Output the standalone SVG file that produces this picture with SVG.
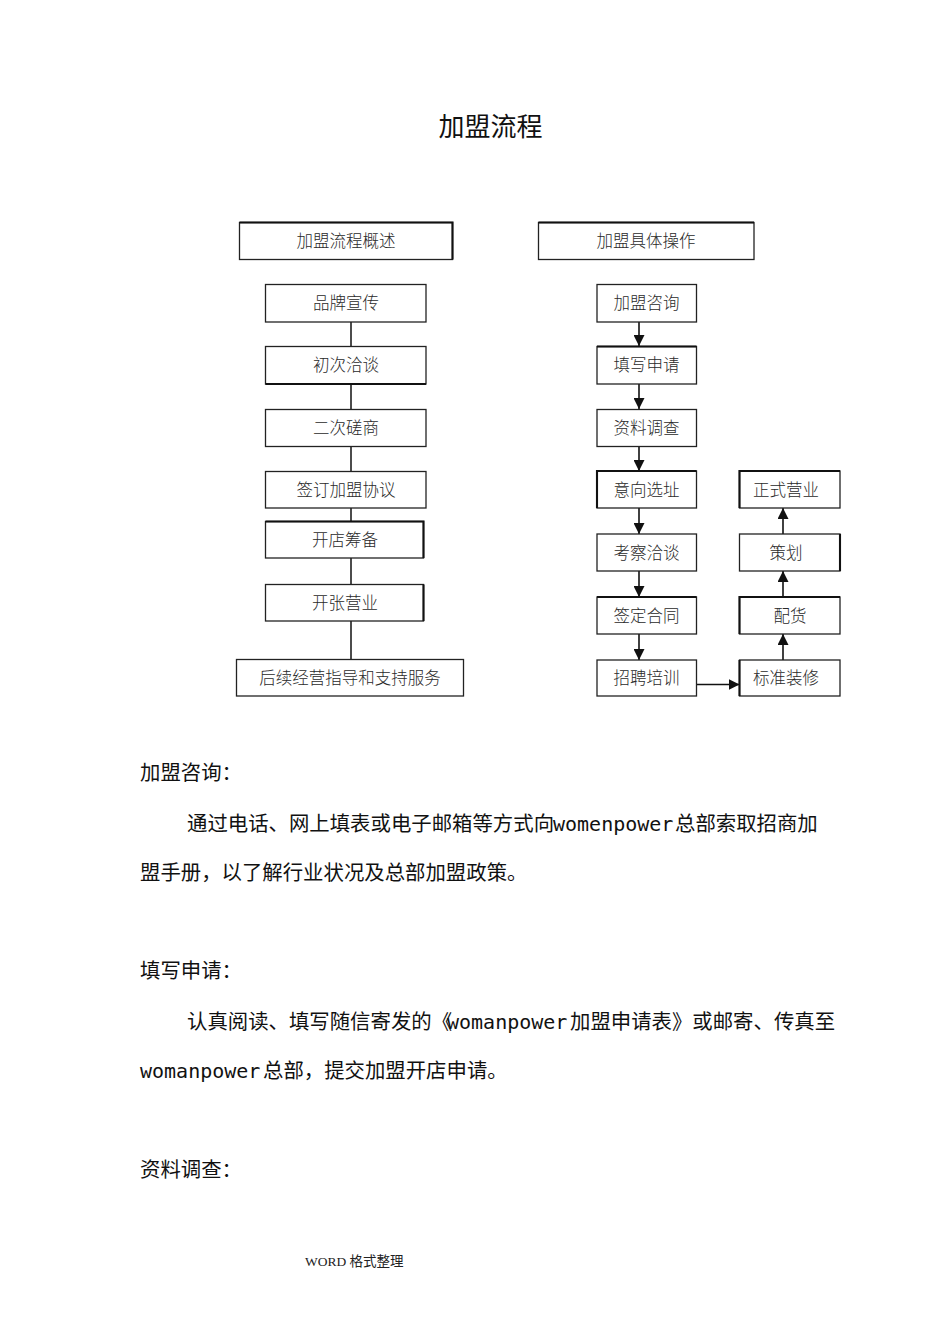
<svg xmlns="http://www.w3.org/2000/svg" width="950" height="1344" viewBox="0 0 950 1344">
<style>
.bg{fill:#ffffff}
.box{fill:#ffffff;stroke:#222;stroke-width:1.3}
.edge{stroke:#111;stroke-width:2.1;fill:none}
.lbl{font-family:"Noto Sans CJK SC","Noto Sans",sans-serif;font-size:16.5px;font-weight:300;fill:#2a2a2a;text-anchor:middle}
.ln{stroke:#111;stroke-width:1.5;fill:none}
.arr{stroke:#111;stroke-width:1.6;fill:none;marker-end:url(#ah)}
.title{font-family:"Noto Sans CJK SC","Noto Sans",sans-serif;font-size:26px;fill:#111;text-anchor:middle}
.body{font-family:"Noto Sans CJK SC","Noto Sans",sans-serif;font-size:20.4px;fill:#111}
.mono{font-family:"DejaVu Sans Mono","Liberation Mono",monospace;font-size:20px}
.foot{font-family:"Liberation Serif","Noto Sans CJK SC",serif;font-size:13.5px;fill:#222}
</style>
<defs>
<marker id="ah" viewBox="0 0 10 10" refX="10" refY="5" markerWidth="11" markerHeight="11" markerUnits="userSpaceOnUse" orient="auto">
<path d="M0,0 L10,5 L0,10 z" fill="#111"/>
</marker>
</defs>
<rect class="bg" x="0" y="0" width="950" height="1344"/>

<text class="title" x="490.5" y="136">加盟流程</text>

<g id="connectors">
<line class="ln" x1="351" y1="322" x2="351" y2="346"/>
<line class="ln" x1="351" y1="384" x2="351" y2="409"/>
<line class="ln" x1="351" y1="447" x2="351" y2="471"/>
<line class="ln" x1="351" y1="508" x2="351" y2="521"/>
<line class="ln" x1="351" y1="558" x2="351" y2="584"/>
<line class="ln" x1="351" y1="621" x2="351" y2="659"/>
<line class="arr" x1="639" y1="322" x2="639" y2="346"/>
<line class="arr" x1="639" y1="384" x2="639" y2="409"/>
<line class="arr" x1="639" y1="446" x2="639" y2="471"/>
<line class="arr" x1="639" y1="508" x2="639" y2="534"/>
<line class="arr" x1="639" y1="571" x2="639" y2="597"/>
<line class="arr" x1="639" y1="634" x2="639" y2="660"/>
<line class="arr" x1="697" y1="684.5" x2="739.5" y2="684.5"/>
<line class="arr" x1="783" y1="660" x2="783" y2="634"/>
<line class="arr" x1="783" y1="597" x2="783" y2="571"/>
<line class="arr" x1="783" y1="534" x2="783" y2="508"/>
</g>

<g id="left-header">
<rect class="box" x="239.5" y="222.5" width="213" height="37"/>
<path class="edge" d="M239.5,222.5 H452.5 V259.5"/>
<text class="lbl" x="346" y="246.5">加盟流程概述</text>
</g>
<g id="n-pinpai">
<rect class="box" x="265.5" y="284.5" width="160.5" height="37.5"/>
<text class="lbl" x="346" y="309">品牌宣传</text>
</g>
<g id="n-chuci">
<rect class="box" x="265.5" y="346.5" width="160.5" height="37.5"/>
<path class="edge" d="M265.5,384 H426"/>
<text class="lbl" x="346" y="371">初次洽谈</text>
</g>
<g id="n-erci">
<rect class="box" x="265.5" y="409.5" width="160.5" height="37"/>
<text class="lbl" x="346" y="434">二次磋商</text>
</g>
<g id="n-qianding">
<rect class="box" x="265.5" y="471.5" width="160.5" height="36.5"/>
<text class="lbl" x="346" y="496">签订加盟协议</text>
</g>
<g id="n-kaidian">
<rect class="box" x="265.5" y="521.5" width="158" height="36.5"/>
<path class="edge" d="M265.5,521.5 H423.5 V558"/>
<text class="lbl" x="345" y="546">开店筹备</text>
</g>
<g id="n-kaizhang">
<rect class="box" x="265.5" y="584.5" width="158" height="36.5"/>
<path class="edge" d="M423.5,584.5 V621"/>
<text class="lbl" x="345" y="609">开张营业</text>
</g>
<g id="n-houxu">
<rect class="box" x="236.5" y="659.5" width="227" height="36.5"/>
<text class="lbl" x="350" y="684">后续经营指导和支持服务</text>
</g>

<g id="right-header">
<rect class="box" x="538.5" y="222.5" width="215.5" height="37"/>
<path class="edge" d="M538.5,222.5 H754"/>
<text class="lbl" x="646" y="246.5">加盟具体操作</text>
</g>
<g id="n-zixun">
<rect class="box" x="597" y="284.5" width="99.5" height="37.5"/>
<text class="lbl" x="646.5" y="309">加盟咨询</text>
</g>
<g id="n-tianxie">
<rect class="box" x="597" y="346.5" width="99.5" height="37.5"/>
<path class="edge" d="M597,346.5 H696.5"/>
<text class="lbl" x="646.5" y="371">填写申请</text>
</g>
<g id="n-ziliao">
<rect class="box" x="597" y="409.5" width="99.5" height="37"/>
<text class="lbl" x="646.5" y="434">资料调查</text>
</g>
<g id="n-yixiang">
<rect class="box" x="597" y="471" width="99.5" height="37"/>
<path class="edge" d="M597,508 V471 H696.5"/>
<text class="lbl" x="646.5" y="495.5">意向选址</text>
</g>
<g id="n-kaocha">
<rect class="box" x="597" y="534" width="99.5" height="37"/>
<text class="lbl" x="646.5" y="558.5">考察洽谈</text>
</g>
<g id="n-qianhetong">
<rect class="box" x="597" y="597" width="99.5" height="37"/>
<path class="edge" d="M597,597 H696.5"/>
<text class="lbl" x="646.5" y="621.5">签定合同</text>
</g>
<g id="n-zhaopin">
<rect class="box" x="597" y="660" width="99.5" height="36"/>
<text class="lbl" x="646.5" y="684">招聘培训</text>
</g>
<g id="n-zhengshi">
<rect class="box" x="739.5" y="471" width="100.5" height="37"/>
<path class="edge" d="M739.5,508 V471 H840"/>
<text class="lbl" x="786" y="495.5">正式营业</text>
</g>
<g id="n-cehua">
<rect class="box" x="739.5" y="534" width="100.5" height="37"/>
<path class="edge" d="M840,534 V571"/>
<text class="lbl" x="786" y="558.5">策划</text>
</g>
<g id="n-peihuo">
<rect class="box" x="739.5" y="597" width="100.5" height="37"/>
<path class="edge" d="M739.5,634 V597 H840"/>
<text class="lbl" x="790" y="621.5">配货</text>
</g>
<g id="n-zhuangxiu">
<rect class="box" x="739.5" y="660" width="100.5" height="36"/>
<path class="edge" d="M739.5,660 V696"/>
<text class="lbl" x="786" y="684">标准装修</text>
</g>

<text class="body" x="140" y="780">加盟咨询：</text>
<text class="body" y="831"><tspan x="187">通过电话、网上填表或电子邮箱等方式向</tspan><tspan class="mono" x="553">womenpower</tspan><tspan x="675">总部索取招商加</tspan></text>
<text class="body" x="140" y="880">盟手册，以了解行业状况及总部加盟政策。</text>

<text class="body" x="140" y="978">填写申请：</text>
<text class="body" y="1029"><tspan x="187">认真阅读、填写随信寄发的《</tspan><tspan class="mono" x="447">womanpower</tspan><tspan x="570">加盟申请表》或邮寄、传真至</tspan></text>
<text class="body" y="1078"><tspan class="mono" x="140">womanpower</tspan><tspan x="263">总部，提交加盟开店申请。</tspan></text>

<text class="body" x="140" y="1177">资料调查：</text>

<text class="foot" x="305" y="1266">WORD 格式整理</text>
</svg>
